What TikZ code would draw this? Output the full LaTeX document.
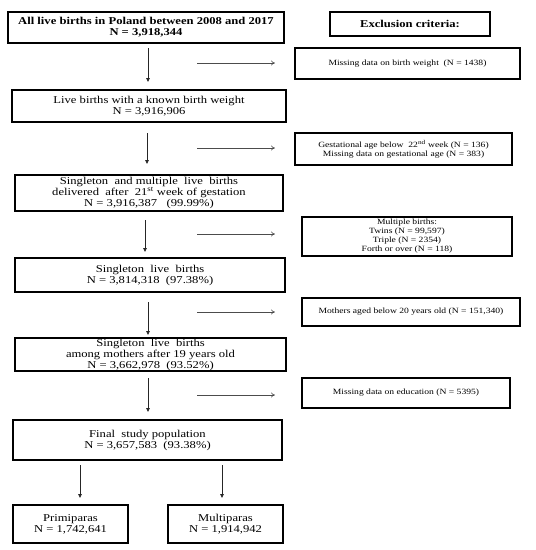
\documentclass[tikz,border=0pt]{standalone}
\usepackage{fontspec}
\setmainfont{Liberation Serif}[FakeStretch=1.2]
\usetikzlibrary{arrows.meta,calc}
\begin{document}
\begin{tikzpicture}[x=1pt,y=-1pt,
  mainbox/.style={draw,line width=1.6pt,inner sep=0pt,align=center,font=\fontsize{10.5}{11}\selectfont},
  exbox/.style={draw,line width=1.6pt,inner sep=0pt,align=center,font=\fontsize{8}{9}\selectfont},
  varrow/.style={draw=black!85,line width=0.8pt,-{Triangle[length=4pt,width=3.5pt]}},
  harrow/.style={draw=black!70,line width=0.6pt,-{To[length=4pt,width=5pt]}}]
\useasboundingbox (0,0) rectangle (536,550);
% main column
\node[mainbox,minimum width=276,minimum height=31] (b1) at (146,27.5) {\textbf{All live births in Poland between 2008 and 2017}\\\textbf{N = 3,918,344}};
\node[mainbox,minimum width=274,minimum height=32] (b2) at (149,106) {Live births with a known birth weight\\N = 3,916,906};
\node[mainbox,minimum width=268,minimum height=36] (b3) at (149,193) {Singleton\ \ and multiple\ \ live\ \ births\\delivered\ \ after\ \ 21\textsuperscript{st} week of gestation\\N = 3,916,387\ \ \ (99.99\%)};
\node[mainbox,minimum width=270,minimum height=34] (b4) at (150,275) {Singleton\ \ live\ \ births\\N = 3,814,318\ \ (97.38\%)};
\node[mainbox,minimum width=271,minimum height=33] (b5) at (150.5,354.5) {Singleton\ \ live\ \ births\\among mothers after 19 years old\\N = 3,662,978\ \ (93.52\%)};
\node[mainbox,minimum width=269,minimum height=40] (b6) at (147.5,440) {Final\ \ study population\\N = 3,657,583\ \ (93.38\%)};
\node[mainbox,minimum width=115,minimum height=38] (p1) at (70.5,524) {Primiparas\\N = 1,742,641};
\node[mainbox,minimum width=115,minimum height=38] (p2) at (225.5,524) {Multiparas\\N = 1,914,942};
% exclusion column
\node[mainbox,minimum width=160,minimum height=24] (ex) at (410,24) {\textbf{Exclusion criteria:}};
\node[exbox,minimum width=225,minimum height=31] (e1) at (407.5,63.5) {Missing data on birth weight\ \ (N = 1438)};
\node[exbox,minimum width=217,minimum height=32] (e2) at (403.5,149) {Gestational age below\ \ 22\textsuperscript{nd} week (N = 136)\\Missing data on gestational age (N = 383)};
\node[exbox,minimum width=210,minimum height=39] (e3) at (407,236.5) {Multiple births:\\Twins (N = 99,597)\\Triple (N = 2354)\\Forth or over (N = 118)};
\node[exbox,minimum width=218,minimum height=28] (e4) at (411,312) {Mothers aged below 20 years old (N = 151,340)};
\node[exbox,minimum width=208,minimum height=30] (e5) at (406,393) {Missing data on education (N = 5395)};
% vertical arrows
\draw[varrow] (148,48) coordinate (v1a) -- (148,82) coordinate (v1b);
\draw[varrow] (147,133) coordinate (v2a) -- (147,164) coordinate (v2b);
\draw[varrow] (145,220) coordinate (v3a) -- (145,252) coordinate (v3b);
\draw[varrow] (148,302) coordinate (v4a) -- (148,335) coordinate (v4b);
\draw[varrow] (148,378) coordinate (v5a) -- (148,412) coordinate (v5b);
\draw[varrow] (80,465) coordinate (v6a) -- (80,498) coordinate (v6b);
\draw[varrow] (222,465) coordinate (v7a) -- (222,498) coordinate (v7b);
% horizontal arrows
\draw[harrow] (197,63) coordinate (h1a) -- (275,63) coordinate (h1b);
\draw[harrow] (197,148) coordinate (h2a) -- (275,148) coordinate (h2b);
\draw[harrow] (197,234) coordinate (h3a) -- (275,234) coordinate (h3b);
\draw[harrow] (197,312) coordinate (h4a) -- (275,312) coordinate (h4b);
\draw[harrow] (197,395) coordinate (h5a) -- (275,395) coordinate (h5b);
\end{tikzpicture}
\end{document}
